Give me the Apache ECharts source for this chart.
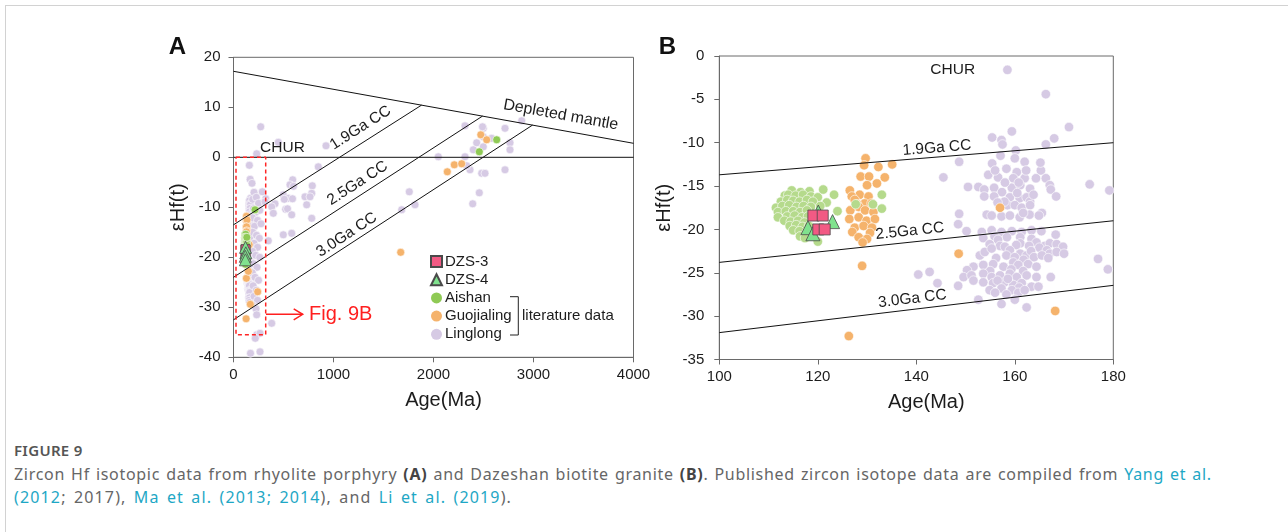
<!DOCTYPE html>
<html>
<head>
<meta charset="utf-8">
<script src="https://cdn.jsdelivr.net/npm/echarts@6/dist/echarts.min.js"></script>
<style>
  html, body { margin: 0; padding: 0; background: #fff; }
  body { width: 1288px; height: 532px; position: relative; overflow: hidden; }
  #frame { position: absolute; left: 5px; top: 5px; width: 1300px; height: 540px;
           border-top: 1.5px solid #d2d2d2; border-left: 1.5px solid #d2d2d2; }
  #chart { position: absolute; left: 0; top: 0; width: 1288px; height: 425px; }
  #caption { position: absolute; left: 14px; top: 440px; width: 1270px;
             font-family: "Noto Sans", "Open Sans", sans-serif; color: #666; }
  #caption .fig { font-size: 15px; font-weight: 600; color: #555; letter-spacing: 0.3px; line-height: 20px; }
  #caption .txt { font-size: 16px; line-height: 23px; margin-top: 3px; letter-spacing: 0.7px; word-spacing: 1.2px; white-space: nowrap; }
  #caption .l2 { letter-spacing: 1.15px; word-spacing: 2px; }
  #caption b { color: #444; font-weight: 700; }
  #caption .ref { color: #1ea7c5; }
</style>
</head>
<body>
<div id="frame"></div>
<div id="chart"></div>
<div id="caption">
  <div class="fig">FIGURE 9</div>
  <div class="txt">Zircon Hf isotopic data from rhyolite porphyry <b>(A)</b> and Dazeshan biotite granite <b>(B)</b>. Published zircon isotope data are compiled from <span class="ref">Yang et al.</span><br><span class="l2"><span class="ref">(2012</span>; 2017), <span class="ref">Ma et al. (2013; 2014</span>), and <span class="ref">Li et al. (2019</span>).</span></div>
</div>
<script>
// ---------- Zircon data: [age (Ma), εHf(t)] ----------
// DZS samples (this study)
const dzs3 = [[119.1, -18.4], [121.0, -18.4], [120.1, -20.0], [121.4, -20.0]];
const dzs4 = [[120.1, -18.0], [123.0, -19.1], [118.0, -19.8], [119.0, -20.5]];

// Literature data, Mesozoic ages (shown in both panels)
const aishan = [
  [114.7, -15.5], [116.5, -15.7], [118.3, -15.6], [121.1, -15.4],
  [113.3, -16.1], [114.0, -16.0], [115.5, -16.1], [117.0, -16.0], [118.6, -16.2], [120.0, -16.3], [123.3, -16.0],
  [112.5, -16.8], [113.8, -16.6], [115.0, -16.7], [116.3, -16.8], [117.8, -16.6], [119.0, -16.8], [121.8, -16.9],
  [111.5, -17.5], [112.8, -17.3], [114.2, -17.2], [115.7, -17.4], [117.1, -17.3], [118.6, -17.4], [120.5, -17.3],
  [111.9, -18.0], [113.5, -17.9], [115.0, -17.9], [116.4, -18.0], [117.8, -17.8], [124.0, -17.9],
  [111.9, -18.6], [113.8, -18.5], [115.3, -18.4], [116.8, -18.6], [118.0, -18.5],
  [113.2, -19.0], [114.5, -19.1], [116.0, -19.0], [117.3, -19.2],
  [114.3, -19.6], [115.6, -19.5], [116.9, -19.7], [118.2, -19.6],
  [115.0, -20.1], [116.3, -20.2], [117.8, -20.3],
  [116.4, -20.8], [117.4, -21.0], [120.0, -21.4],
  [127.7, -17.1], [131.2, -17.1], [133.0, -16.0], [133.0, -17.6]
];
const guojialing = [
  [129.7, -11.8], [129.4, -12.6], [132.3, -12.8], [135.1, -12.5], [133.6, -14.0],
  [128.7, -13.9], [130.4, -13.9], [132.0, -14.7], [130.0, -14.9], [126.5, -15.5],
  [128.5, -16.0], [126.9, -16.2], [130.3, -16.2], [127.5, -16.6], [129.5, -17.0],
  [130.9, -17.0], [128.0, -17.1], [128.3, -17.4], [126.6, -17.8], [129.6, -17.8],
  [131.3, -18.0], [126.4, -18.8], [128.3, -18.6], [129.9, -19.0], [131.6, -18.8],
  [127.5, -19.8], [129.3, -19.6], [131.0, -19.8], [127.0, -20.3], [130.6, -20.4],
  [128.3, -20.9], [130.0, -21.1], [129.1, -21.5],
  [129.0, -24.2], [126.3, -32.3], [148.6, -22.8], [157.0, -17.5], [168.2, -29.4]
];
const linglong = [
  [158.5, -1.6], [166.3, -4.4], [171.0, -8.2], [159.4, -8.7], [155.4, -9.4], [157.3, -9.7],
  [157.5, -10.2], [168.0, -9.5], [166.3, -10.2], [160.2, -10.9], [157.1, -11.5], [160.0, -11.8],
  [162.0, -12.2], [148.7, -12.2], [155.4, -12.4], [158.3, -13.0], [160.4, -13.4], [165.3, -13.2],
  [145.5, -14.0], [154.6, -13.7], [156.6, -14.0], [159.7, -14.1], [162.0, -14.1], [164.3, -14.1],
  [166.3, -14.1], [150.5, -15.1], [152.6, -15.1], [153.8, -15.4], [155.8, -15.2], [157.4, -15.7],
  [159.4, -15.2], [161.1, -14.9], [163.1, -15.3], [167.1, -14.9], [167.3, -15.4], [168.4, -16.2],
  [175.2, -14.8], [179.2, -15.5], [153.8, -16.2], [155.8, -16.2], [159.0, -16.3], [161.0, -16.4],
  [162.4, -16.3], [163.1, -16.8], [158.5, -17.2], [160.0, -17.2], [161.4, -17.5], [163.1, -17.2],
  [165.5, -18.1], [148.7, -18.2], [154.3, -18.3], [155.3, -18.4], [157.3, -18.5], [159.0, -18.4],
  [161.0, -18.6], [163.0, -18.3], [164.9, -18.4],
  [156.0, -13.2], [158.0, -14.6], [160.8, -14.6], [157.9, -16.8], [160.5, -15.8], [156.5, -16.9],
  [162.3, -13.2], [163.8, -16.0], [161.7, -18.1], [165.2, -12.3],
  [148.5, -19.4], [150.2, -20.2], [153.3, -20.3], [155.3, -20.1], [157.3, -20.3], [159.4, -20.2],
  [161.4, -20.3], [163.4, -20.1], [165.4, -20.2], [168.3, -20.6],
  [153.6, -21.0], [155.9, -20.8], [158.4, -20.9], [161.1, -20.9], [163.4, -21.1], [156.6, -21.2],
  [154.9, -21.7], [157.0, -21.9], [161.1, -21.6], [164.4, -21.5], [166.1, -21.9], [167.1, -21.6],
  [168.5, -21.7], [169.8, -22.0], [158.0, -22.0], [160.3, -21.8], [162.9, -21.9], [165.0, -22.1],
  [152.9, -23.0], [153.9, -22.6], [155.3, -22.2], [159.0, -22.4], [161.1, -22.8], [162.4, -23.0],
  [166.5, -22.4], [167.1, -22.8], [168.5, -22.6], [170.0, -22.8], [176.9, -23.4],
  [156.2, -23.3], [158.3, -23.0], [160.0, -23.2], [161.8, -23.5], [163.3, -22.5], [163.9, -23.2],
  [165.5, -23.0], [166.8, -23.3],
  [151.6, -24.3], [153.6, -24.1], [155.6, -24.0], [157.7, -24.3], [159.7, -23.8], [160.7, -24.1],
  [162.7, -24.0], [164.4, -24.3], [178.9, -24.6], [155.0, -24.8], [159.3, -24.6], [161.7, -24.8],
  [150.3, -24.7], [140.4, -25.2], [142.7, -24.9],
  [149.6, -25.5], [151.2, -25.3], [153.6, -25.1], [155.3, -25.5], [157.0, -25.3], [159.0, -25.1],
  [160.4, -25.5], [162.4, -25.3], [164.4, -25.5], [167.3, -25.5],
  [144.3, -26.2], [148.5, -26.5], [151.6, -25.9], [153.6, -26.1], [155.6, -26.2], [157.9, -26.1],
  [159.7, -26.4], [161.4, -26.2], [163.4, -26.6], [156.5, -25.9], [158.6, -25.7], [160.9, -26.7],
  [164.8, -26.6],
  [154.9, -27.0], [157.3, -26.8], [159.4, -27.0], [160.7, -27.3], [158.3, -27.5], [156.0, -27.3],
  [162.0, -27.0],
  [152.6, -28.1], [160.0, -28.1], [157.3, -28.6], [162.4, -29.0]
];

// Literature data outside the Mesozoic window (panel A only)
const aishanOld = [[215, -10.5], [2458, 1.1], [2632, 3.5]];
const guojialingOld = [[242, -26.9], [1672, -19.0], [2473, 4.5], [2532, 3.5], [2208, -1.5], [2282, -1.3], [2138, -2.9]];
const linglongOld = [
  [232, 0.7], [272, 6.1], [185, -5.2], [205, -7.0], [192, -8.4], [228, -8.0], [250, -9.2], [288, -6.9],
  [322, -8.3], [315, -8.9], [198, -10.3], [222, -11.0], [262, -10.6], [190, -12.1], [240, -12.6],
  [210, -13.8], [275, -13.3], [192, -15.0], [230, -15.6], [258, -16.2], [205, -17.2], [240, -18.0],
  [190, -18.8], [222, -19.6], [262, -20.0], [200, -21.3], [235, -22.0], [188, -23.1], [215, -24.0],
  [250, -24.6], [196, -25.7], [228, -26.6], [205, -27.8], [240, -28.6], [190, -29.6], [225, -30.3],
  [232, -31.5], [232, -35.5], [265, -35.2], [218, -36.2], [265, -38.9], [170, -39.2],
  [448, 3.0], [925, 2.3], [848, -1.9], [592, -4.5], [565, -5.5], [788, -5.7], [600, -5.8],
  [782, -7.2], [715, -7.9], [765, -7.9], [498, -7.5], [548, -8.2], [508, -8.4], [590, -8.3],
  [415, -9.3], [382, -9.9], [522, -10.4], [540, -10.3], [732, -9.5], [398, -11.2], [582, -11.5],
  [782, -12.2], [498, -15.5], [582, -15.2], [348, -16.7], [382, -33.2],
  [1758, -6.9], [1815, -9.5], [1682, -10.5], [2048, 0.1], [2315, 6.3], [2315, 0.1], [2365, -2.5],
  [2392, -9.3], [2458, -7.1], [2482, -3.2], [2515, -3.2], [2715, -2.5], [2715, 5.8], [2765, 2.9],
  [2765, 1.5], [2882, 7.3], [2498, 5.8], [2498, 4.1], [2432, 2.9], [2498, 2.1], [2398, 1.5],
  [2582, 3.8], [2332, -1.7], [2490, 6.1]
];

// Reference evolution lines, panel A
const churA = [[0, 0], [4000, 0]];
const dmA = [[0, 17.2], [4000, 2.8]];
const cc19A = [[0, -13.5], [1880, 10.43]];
const cc25A = [[0, -24.0], [2490, 8.24]];
const cc30A = [[0, -32.5], [2990, 6.44]];
// Reference evolution lines, panel B
const cc19B = [[100, -13.7], [180, -10.0]];
const cc25B = [[100, -23.8], [180, -19.0]];
const cc30B = [[100, -31.9], [180, -26.45]];

// Outline of the window enlarged in panel B
const zoomBox = [[25, 0], [322, 0], [322, -35.5], [25, -35.5], [25, 0]];

// Axis ranges and tick steps
const axisA = { x: [0, 4000, 1000], y: [-40, 20, 10] };
const axisB = { x: [100, 180, 20], y: [-35, 0, 5] };

// ---------- Styling ----------
const FONT = '"Liberation Sans", Arial, Helvetica, sans-serif';
const AXIS_COLOR = '#6a6a6a';
const TEXT_COLOR = '#1c1c1c';
const COLORS = {
  linglong: '#d6cae4', guojialing: '#f5b36c', aishanA: '#8fca55', aishanB: '#b5da8c',
  dzs3: '#f25a84', dzs4: '#80e28e'
};

const chart = echarts.init(document.getElementById('chart'), null, { renderer: 'canvas' });

function xAxisCfg(grid, r, labelMargin) {
  return {
    gridIndex: grid, type: 'value', min: r[0], max: r[1], interval: r[2],
    axisLine: { show: true, onZero: false, lineStyle: { color: AXIS_COLOR, width: 1 } },
    axisTick: { show: true, length: 5, inside: false, lineStyle: { color: AXIS_COLOR } },
    axisLabel: { color: TEXT_COLOR, fontSize: 15, fontFamily: FONT, margin: labelMargin, formatter: v => String(v) },
    splitLine: { show: false },
    name: 'Age(Ma)', nameLocation: 'middle', nameGap: 33,
    nameTextStyle: { fontSize: 20, color: TEXT_COLOR, fontFamily: FONT, padding: [0, 0, 0, 20] }
  };
}
function yAxisCfg(grid, r, labelMargin) {
  return {
    gridIndex: grid, type: 'value', min: r[0], max: r[1], interval: r[2],
    axisLine: { show: true, onZero: false, lineStyle: { color: AXIS_COLOR, width: 1 } },
    axisTick: { show: true, length: 5, inside: false, lineStyle: { color: AXIS_COLOR } },
    axisLabel: { color: TEXT_COLOR, fontSize: 15, fontFamily: FONT, margin: labelMargin, formatter: v => String(v) },
    splitLine: { show: false },
    name: 'εHf(t)', nameLocation: 'middle', nameGap: 45, nameRotate: 90,
    nameTextStyle: { fontSize: 20, color: TEXT_COLOR, fontFamily: FONT }
  };
}
function refLine(data, grid, extra) {
  return Object.assign({
    type: 'line', data: data, xAxisIndex: grid, yAxisIndex: grid,
    symbol: 'none', silent: true, z: 4,
    lineStyle: { color: '#111', width: 1 }
  }, extra || {});
}
function dots(name, data, grid, color, size) {
  return {
    type: 'scatter', name: name, data: data, xAxisIndex: grid, yAxisIndex: grid,
    symbol: 'circle', symbolSize: size, z: 2,
    itemStyle: { color: color, borderColor: '#ffffff', borderWidth: 0.6, opacity: 1 }
  };
}
function sample(name, data, grid, shape, color, size, z) {
  return {
    type: 'scatter', name: name, data: data, xAxisIndex: grid, yAxisIndex: grid,
    symbol: shape, symbolSize: size, z: z,
    itemStyle: { color: color, borderColor: '#4a4a4a', borderWidth: 0.8, opacity: 1 }
  };
}

const plainDot = { borderWidth: 0 };
const option = {
  animation: false,
  textStyle: { fontFamily: FONT },
  grid: [
    { left: 233.5, top: 57.3, width: 400, height: 300, show: true, borderColor: AXIS_COLOR, borderWidth: 1, outerBoundsMode: 'none', containLabel: false },
    { left: 719.3, top: 56, width: 394, height: 303.5, show: true, borderColor: AXIS_COLOR, borderWidth: 1, outerBoundsMode: 'none', containLabel: false }
  ],
  xAxis: [xAxisCfg(0, axisA.x, 10), xAxisCfg(1, axisB.x, 10)],
  yAxis: [yAxisCfg(0, axisA.y, 13), yAxisCfg(1, axisB.y, 15)],
  legend: {
    orient: 'vertical', left: 430, top: 254, padding: 0, itemGap: 3.2, itemWidth: 11, itemHeight: 11,
    textStyle: { fontSize: 15, color: TEXT_COLOR, fontFamily: FONT, padding: [0, 0, 0, -2] },
    selectedMode: true,
    data: [
      { name: 'DZS-3', icon: 'rect' },
      { name: 'DZS-4', icon: 'triangle' },
      { name: 'Aishan', icon: 'circle', itemStyle: plainDot },
      { name: 'Guojialing', icon: 'circle', itemStyle: plainDot },
      { name: 'Linglong', icon: 'circle', itemStyle: plainDot }
    ]
  },
  series: [
    // panel A
    dots('Linglong', linglong.concat(linglongOld), 0, COLORS.linglong, 8),
    dots('Guojialing', guojialing.concat(guojialingOld), 0, COLORS.guojialing, 8),
    dots('Aishan', aishan.concat(aishanOld), 0, COLORS.aishanA, 8),
    sample('DZS-3', dzs3, 0, 'rect', COLORS.dzs3, 9, 5),
    sample('DZS-4', dzs4, 0, 'triangle', COLORS.dzs4, 12, 6),
    refLine(churA, 0), refLine(dmA, 0), refLine(cc19A, 0), refLine(cc25A, 0), refLine(cc30A, 0),
    refLine(zoomBox, 0, { lineStyle: { color: '#ff2525', width: 1.5, type: [4, 3] }, z: 5 }),
    // panel B
    dots('Linglong', linglong, 1, COLORS.linglong, 9.5),
    dots('Guojialing', guojialing, 1, COLORS.guojialing, 9.5),
    dots('Aishan', aishan, 1, COLORS.aishanB, 9.5),
    sample('DZS-4', dzs4, 1, 'triangle', COLORS.dzs4, 14, 5),
    sample('DZS-3', dzs3, 1, 'rect', COLORS.dzs3, 11, 6),
    refLine(cc19B, 1), refLine(cc25B, 1), refLine(cc30B, 1)
  ]
};
chart.setOption(option);

// ---------- Annotations placed in data space ----------
const annotations = [
  { grid: 0, text: '1.9Ga CC', at: [1270, 5.9], along: cc19A, size: 15.5 },
  { grid: 0, text: '2.5Ga CC', at: [1240, -5.2], along: cc25A, size: 15.5 },
  { grid: 0, text: '3.0Ga CC', at: [1132, -15.5], along: cc30A, size: 15.5 },
  { grid: 0, text: 'Depleted mantle', at: [3273, 8.46], along: dmA, size: 16 },
  { grid: 0, text: 'CHUR', at: [490, 1.95], along: null, size: 15.5 },
  { grid: 1, text: '1.9Ga CC', at: [144.2, -10.6], along: cc19B, size: 15.5 },
  { grid: 1, text: '2.5Ga CC', at: [138.7, -20.2], along: cc25B, size: 15.5 },
  { grid: 1, text: '3.0Ga CC', at: [139.2, -28.0], along: cc30B, size: 15.5 },
  { grid: 1, text: 'CHUR', at: [147.4, -1.6], along: null, size: 15.5 }
];
const toPx = (g, p) => chart.convertToPixel({ gridIndex: g }, p);

const graphics = [];
annotations.forEach(a => {
  const p = toPx(a.grid, a.at);
  let rot = 0;
  if (a.along) {
    const p1 = toPx(a.grid, a.along[0]);
    const p2 = toPx(a.grid, a.along[1]);
    rot = -Math.atan2(p2[1] - p1[1], p2[0] - p1[0]);
  }
  graphics.push({
    type: 'text', x: p[0], y: p[1], rotation: rot, silent: true, z: 10,
    style: { text: a.text, fill: TEXT_COLOR, font: a.size + 'px ' + FONT, align: 'center', verticalAlign: 'middle' }
  });
});

// Arrow pointing from the outlined window to the label for panel B
const arrowFrom = toPx(0, [325, -31.4]);
const arrowTo = toPx(0, [692, -31.4]);
const figLabel = toPx(0, [755, -31.4]);
graphics.push(
  { type: 'line', silent: true, z: 10, shape: { x1: arrowFrom[0], y1: arrowFrom[1], x2: arrowTo[0], y2: arrowTo[1] },
    style: { stroke: '#ff1f1f', lineWidth: 1.5 } },
  { type: 'polyline', silent: true, z: 10,
    shape: { points: [[arrowTo[0] - 9, arrowTo[1] - 5.5], [arrowTo[0], arrowTo[1]], [arrowTo[0] - 9, arrowTo[1] + 5.5]] },
    style: { stroke: '#ff1f1f', lineWidth: 1.5, fill: null } },
  { type: 'text', x: figLabel[0], y: figLabel[1], silent: true, z: 10,
    style: { text: 'Fig. 9B', fill: '#ff1f1f', font: '20px ' + FONT, align: 'left', verticalAlign: 'middle' } }
);

// Bracket grouping the literature series in the legend
graphics.push(
  { type: 'polyline', silent: true, z: 10,
    shape: { points: [[510, 296.7], [518.3, 296.7], [518.3, 335], [510, 335]] },
    style: { stroke: '#222', lineWidth: 1, fill: null } },
  { type: 'text', x: 522, y: 315.5, silent: true, z: 10,
    style: { text: 'literature data', fill: TEXT_COLOR, font: '15px ' + FONT, align: 'left', verticalAlign: 'middle' } },
  // panel letters
  { type: 'text', x: 177.5, y: 47, silent: true, z: 10,
    style: { text: 'A', fill: '#111', font: 'bold 24px ' + FONT, align: 'center', verticalAlign: 'middle' } },
  { type: 'text', x: 667.5, y: 47, silent: true, z: 10,
    style: { text: 'B', fill: '#111', font: 'bold 24px ' + FONT, align: 'center', verticalAlign: 'middle' } }
);

chart.setOption({ graphic: graphics });
</script>
</body>
</html>
